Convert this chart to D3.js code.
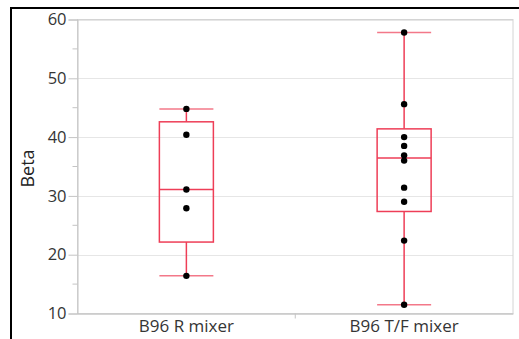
<!DOCTYPE html>
<html>
<head>
<meta charset="utf-8">
<script src="https://cdn.jsdelivr.net/npm/d3@7"></script>
<style>
  html, body { margin: 0; padding: 0; background: #fff; }
  svg { display: block; font-family: "Open Sans", "Noto Sans", sans-serif; }
</style>
</head>
<body>
<svg id="chart" width="519" height="339"></svg>
<script>
// Groups and their observed Beta values
const categories = ["B96 R mixer", "B96 T/F mixer"];
const valuesR = [16.4, 27.9, 31.1, 40.4, 44.8];
const valuesTF = [11.5, 22.4, 29.0, 31.4, 36.0, 36.9, 38.5, 40.0, 45.6, 57.8];
const yTicks = [10, 20, 30, 40, 50, 60];
const yMinorTicks = [15, 25, 35, 45, 55];
const yLabel = "Beta";

const groups = [
  { name: categories[0], values: valuesR },
  { name: categories[1], values: valuesTF }
];

const svg = d3.select("#chart");
const W = 519, H = 339;
const plot = { left: 77.5, right: 513, top: 19.5, bottom: 313.5 };

const x = d3.scaleBand().domain(categories).range([plot.left, plot.right]).padding(0);
const y = d3.scaleLinear().domain([10, 60]).range([plot.bottom, plot.top]);

// Quantile at position (n+1)p, interpolated between order statistics
function quant(sorted, p) {
  const n = sorted.length;
  const pos = (n + 1) * p;
  const lo = Math.floor(pos), hi = Math.ceil(pos);
  const a = sorted[Math.max(0, Math.min(n - 1, lo - 1))];
  const b = sorted[Math.max(0, Math.min(n - 1, hi - 1))];
  return a + (b - a) * (pos - lo);
}

groups.forEach(g => {
  const s = g.values.slice().sort(d3.ascending);
  g.q1 = quant(s, 0.25);
  g.med = quant(s, 0.5);
  g.q3 = quant(s, 0.75);
  const iqr = g.q3 - g.q1;
  g.lo = d3.min(s.filter(v => v >= g.q1 - 1.5 * iqr));
  g.hi = d3.max(s.filter(v => v <= g.q3 + 1.5 * iqr));
});

// Outer black frame
svg.append("path")
  .attr("d", `M11,${H} L11,8 L${W},8`)
  .attr("fill", "none").attr("stroke", "#000").attr("stroke-width", 2);

// Gridlines
svg.append("g").selectAll("line").data(yTicks).join("line")
  .attr("x1", plot.left).attr("x2", plot.right)
  .attr("y1", d => Math.round(y(d)) + 0.5).attr("y2", d => Math.round(y(d)) + 0.5)
  .attr("stroke", "#e6e6e6").attr("stroke-width", 1);

// Plot frame
svg.append("rect")
  .attr("x", plot.left).attr("y", plot.top)
  .attr("width", plot.right - plot.left).attr("height", plot.bottom - plot.top)
  .attr("fill", "none").attr("stroke", "#d4d4d4").attr("stroke-width", 1);

// Y axis
const yAxis = svg.append("g").attr("transform", `translate(${plot.left},0)`)
  .call(d3.axisLeft(y).tickValues(yTicks).tickSize(9).tickPadding(2).tickFormat(d3.format("d")));
yAxis.select(".domain").attr("stroke", "#c4c4c4");
yAxis.selectAll(".tick line").attr("stroke", "#c4c4c4");
yAxis.selectAll(".tick text").attr("font-size", 16.5).attr("fill", "#353535")
  .attr("font-family", "'Open Sans', sans-serif");
svg.append("g").selectAll("line").data(yMinorTicks).join("line")
  .attr("x1", plot.left - 5).attr("x2", plot.left)
  .attr("y1", d => y(d)).attr("y2", d => y(d))
  .attr("stroke", "#c4c4c4");

// X axis
const xAxis = svg.append("g").attr("transform", `translate(0,${plot.bottom})`)
  .call(d3.axisBottom(x).tickSize(0).tickPadding(6));
xAxis.select(".domain").attr("stroke", "#c4c4c4");
xAxis.selectAll(".tick text").attr("font-size", 17).attr("fill", "#353535")
  .attr("font-family", "'Open Sans', sans-serif");
// divider tick between the two groups
svg.append("line")
  .attr("x1", (plot.left + plot.right) / 2).attr("x2", (plot.left + plot.right) / 2)
  .attr("y1", plot.bottom).attr("y2", plot.bottom + 5)
  .attr("stroke", "#c4c4c4");

// Y axis title
svg.append("text")
  .attr("transform", `translate(34,${(plot.top + plot.bottom) / 2 + 2}) rotate(-90)`)
  .attr("text-anchor", "middle")
  .attr("font-size", 18).attr("fill", "#222")
  .text(yLabel);

// Box plots
const boxW = 54;
const red = "#ee3e57";
const bx = svg.append("g");
groups.forEach(g => {
  const cx = x(g.name) + x.bandwidth() / 2;
  const gg = bx.append("g");
  gg.append("line").attr("x1", cx).attr("x2", cx).attr("y1", y(g.hi)).attr("y2", y(g.q3))
    .attr("stroke", red).attr("stroke-width", 1.5);
  gg.append("line").attr("x1", cx).attr("x2", cx).attr("y1", y(g.q1)).attr("y2", y(g.lo))
    .attr("stroke", red).attr("stroke-width", 1.5);
  gg.append("rect").attr("x", cx - boxW / 2).attr("y", y(g.q3))
    .attr("width", boxW).attr("height", y(g.q1) - y(g.q3))
    .attr("fill", "none").attr("stroke", red).attr("stroke-width", 1.5);
  gg.append("line").attr("x1", cx - boxW / 2).attr("x2", cx + boxW / 2)
    .attr("y1", y(g.med)).attr("y2", y(g.med)).attr("stroke", red).attr("stroke-width", 1.5);
  [g.hi, g.lo].forEach(v => {
    gg.append("line").attr("x1", cx - boxW / 2).attr("x2", cx + boxW / 2)
      .attr("y1", y(v)).attr("y2", y(v)).attr("stroke", red).attr("stroke-opacity", 0.7)
      .attr("stroke-width", 1.5);
  });
  gg.selectAll("circle").data(g.values).join("circle")
    .attr("cx", cx).attr("cy", d => y(d)).attr("r", 3.2).attr("fill", "#000");
});
</script>
</body>
</html>
